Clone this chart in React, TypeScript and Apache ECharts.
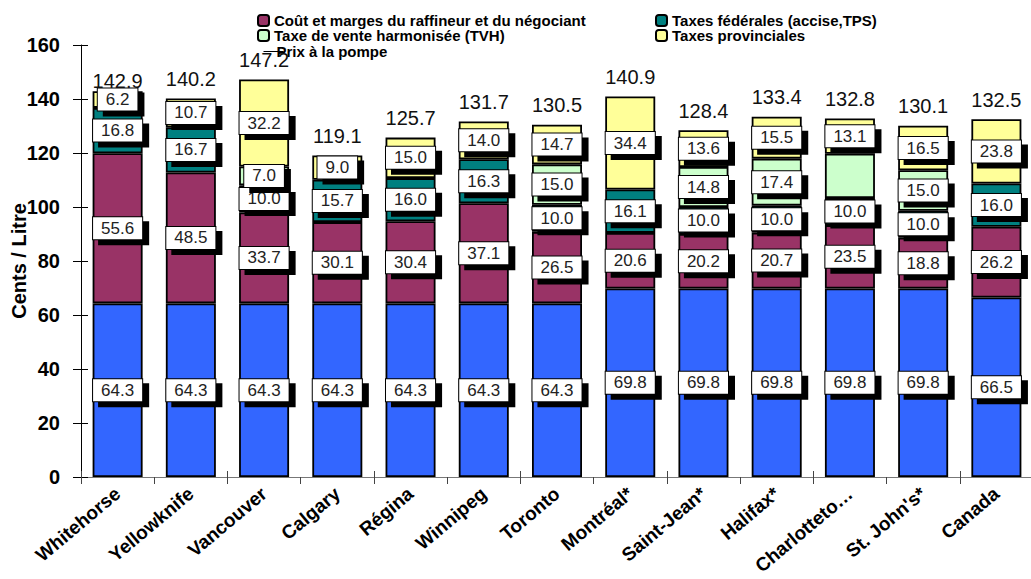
import React, { useEffect, useRef } from "react";
import * as echarts from "echarts";

const categories = ["Whitehorse", "Yellowknife", "Vancouver", "Calgary", "Régina", "Winnipeg", "Toronto", "Montréal*", "Saint-Jean*", "Halifax*", "Charlottetown*", "St. John's*", "Canada"];
const crudeCost = [64.3, 64.3, 64.3, 64.3, 64.3, 64.3, 64.3, 69.8, 69.8, 69.8, 69.8, 69.8, 66.5];
const refiningMargins = [55.6, 48.5, 33.7, 30.1, 30.4, 37.1, 26.5, 20.6, 20.2, 20.7, 23.5, 18.8, 26.2];
const federalTaxes = [16.8, 16.7, 10.0, 15.7, 16.0, 16.3, 10.0, 16.1, 10.0, 10.0, 10.0, 10.0, 16.0];
const hstTaxes = [null, null, 7.0, null, null, null, 15.0, null, 14.8, 17.4, 16.4, 15.0, null];
const provincialTaxes = [6.2, 10.7, 32.2, 9.0, 15.0, 14.0, 14.7, 34.4, 13.6, 15.5, 13.1, 16.5, 23.8];
const pumpPrice = [142.9, 140.2, 147.2, 119.1, 125.7, 131.7, 130.5, 140.9, 128.4, 133.4, 132.8, 130.1, 132.5];
const hiddenHstLabel = ["Charlottetown*"];
const lowPriceLabel = ["Whitehorse"];
const yTicks = { min: 0, max: 160, interval: 20 };

const names = {
  crude: "Coût du pétrole brut",
  refining: "Coût et marges du raffineur et du négociant",
  federal: "Taxes fédérales (accise,TPS)",
  hst: "Taxe de vente harmonisée (TVH)",
  provincial: "Taxes provinciales",
  pump: "Prix à la pompe",
};

const FONT = 'Arial, "Liberation Sans", sans-serif';

const boxLabel = {
  show: true,
  position: "inside",
  formatter: (p: any) => (p.value == null ? "" : Number(p.value).toFixed(1)),
  fontFamily: FONT,
  fontSize: 17,
  color: "#222",
  backgroundColor: "#fff",
  borderColor: "#000",
  borderWidth: 1,
  padding: [3, 8, 2, 8],
  shadowColor: "#000",
  shadowBlur: 0,
  shadowOffsetX: 6,
  shadowOffsetY: 5,
};

function barSeries(name: string, data: (number | null)[], color: string, hidden: string[] = []) {
  return {
    name,
    type: "bar",
    stack: "total",
    barWidth: 50,
    data: data.map((v, i) =>
      hidden.includes(categories[i]) ? { value: v, label: { show: false } } : v
    ),
    itemStyle: { color, borderColor: "#000", borderWidth: 1.8 },
    label: boxLabel,
  };
}

export default function App() {
  const ref = useRef<HTMLDivElement>(null);
  useEffect(() => {
    if (!ref.current) return;
    const chart = echarts.init(ref.current, null, { renderer: "svg" });
    const legendText = { fontFamily: FONT, fontSize: 15, lineHeight: 15, fontWeight: "bold", color: "#000" };
    const legendBase = { itemWidth: 11, itemHeight: 11, itemGap: 0, padding: 0, textStyle: legendText };
    chart.setOption({
      animation: false,
      backgroundColor: "#fff",
      textStyle: { fontFamily: FONT },
      grid: { left: 81, right: -2, top: 45, bottom: 102, containLabel: false, outerBoundsMode: "none" },
      legend: [
        { ...legendBase, left: 257, top: 13, data: [names.refining] },
        { ...legendBase, left: 257, top: 28, data: [names.hst] },
        { ...legendBase, left: 655, top: 13, data: [names.federal] },
        { ...legendBase, left: 655, top: 28, data: [names.provincial] },
        {
          ...legendBase,
          left: 263, top: 44, itemWidth: 20, itemHeight: 8,
          data: [{ name: names.pump, lineStyle: { opacity: 1, color: "#000", width: 1 } }],
          textStyle: { ...legendText, padding: [0, 0, 0, -12] },
        },
      ],
      xAxis: [
        {
          type: "category",
          data: categories,
          axisLine: { lineStyle: { color: "#777", width: 1 } },
          axisTick: { show: true, length: 7, lineStyle: { color: "#444" } },
          axisLabel: {
            rotate: 40,
            margin: 14,
            interval: 0,
            fontFamily: FONT,
            fontSize: 19,
            fontWeight: "bold",
            color: "#000",
            formatter: (v: string) => (v.length > 12 ? v.slice(0, 11) + "…" : v),
          },
        },
        {
          type: "category",
          data: categories,
          position: "bottom",
          axisLine: { show: false },
          axisTick: { show: true, inside: true, length: 6, lineStyle: { color: "#444" } },
          axisLabel: { show: false },
        },
      ],
      yAxis: [
        {
          type: "value",
          ...yTicks,
          name: "Cents / Litre",
          nameLocation: "middle",
          nameGap: 52,
          nameMoveOverlap: false,
          nameTextStyle: { fontFamily: FONT, fontSize: 20, fontWeight: "bold", color: "#000" },
          axisLine: { show: true, lineStyle: { color: "#000", width: 1 } },
          axisTick: { show: true, length: 8, lineStyle: { color: "#000" } },
          splitLine: { show: false },
          axisLabel: { margin: 21, fontFamily: FONT, fontSize: 20, fontWeight: "bold", color: "#000" },
        },
        {
          type: "value",
          ...yTicks,
          position: "left",
          axisLine: { show: false },
          axisTick: { show: true, inside: true, length: 7, lineStyle: { color: "#000" } },
          splitLine: { show: false },
          axisLabel: { show: false },
        },
      ],
      series: [
        barSeries(names.crude, crudeCost, "#3366FF"),
        barSeries(names.refining, refiningMargins, "#993366"),
        barSeries(names.federal, federalTaxes, "#008080"),
        barSeries(names.hst, hstTaxes, "#CCFFCC", hiddenHstLabel),
        barSeries(names.provincial, provincialTaxes, "#FFFF99"),
        {
          name: names.pump,
          type: "line",
          data: pumpPrice.map((v, i) =>
            lowPriceLabel.includes(categories[i]) ? { value: v, label: { distance: 0 } } : v
          ),
          symbol: "circle",
          symbolSize: 1,
          showSymbol: true,
          lineStyle: { opacity: 0, color: "#000" },
          itemStyle: { color: "rgba(0,0,0,0)" },
          label: {
            show: true,
            position: "top",
            distance: 9,
            fontFamily: FONT,
            fontSize: 20,
            color: "#111",
            formatter: (p: any) => Number(p.value).toFixed(1),
          },
          z: 10,
        },
      ],
    });
    return () => chart.dispose();
  }, []);
  return <div ref={ref} style={{ position: "fixed", left: 0, top: 0, width: 1031, height: 579 }} />;
}
